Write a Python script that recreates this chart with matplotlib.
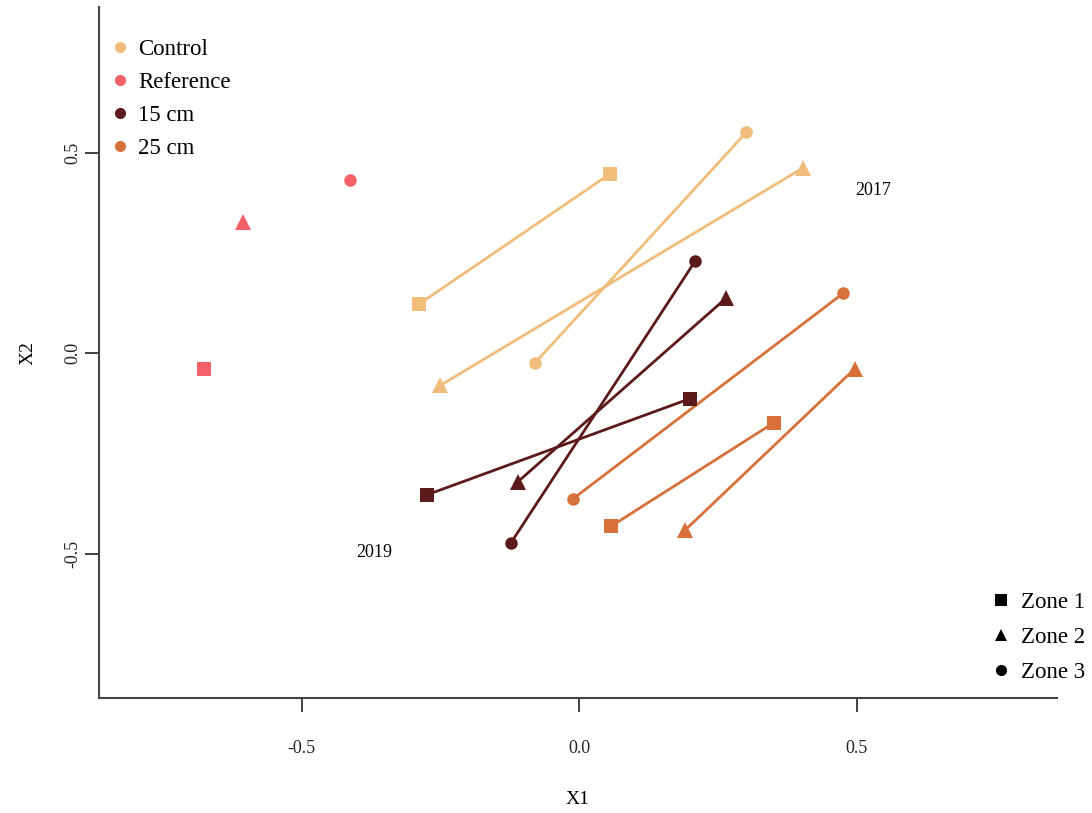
import matplotlib
matplotlib.use("Agg")
import matplotlib.pyplot as plt
from matplotlib.lines import Line2D

plt.rcParams["font.family"] = ["Liberation Serif", "DejaVu Serif"]

# Treatments, zones and their ordination scores (X1, X2) in 2019 and 2017
treatments = ["Control", "Reference", "15 cm", "25 cm"]
colors = ["#F0BD7B", "#F5616A", "#5C1A1A", "#D8703A"]
zones = ["Zone 1", "Zone 2", "Zone 3"]
zone_markers = ["s", "^", "o"]

control_2019_x = [-0.288, -0.250, -0.079]
control_2019_y = [0.123, -0.080, -0.023]
control_2017_x = [0.056, 0.404, 0.301]
control_2017_y = [0.448, 0.463, 0.551]

reference_x = [-0.676, -0.605, -0.413]
reference_y = [-0.038, 0.328, 0.431]

cm15_2019_x = [-0.274, -0.110, -0.123]
cm15_2019_y = [-0.353, -0.320, -0.473]
cm15_2017_x = [0.200, 0.265, 0.209]
cm15_2017_y = [-0.113, 0.138, 0.230]

cm25_2019_x = [0.058, 0.191, -0.011]
cm25_2019_y = [-0.431, -0.441, -0.363]
cm25_2017_x = [0.351, 0.497, 0.476]
cm25_2017_y = [-0.173, -0.038, 0.150]

year_labels = ["2017", "2019"]
year_label_x = [0.530, -0.370]
year_label_y = [0.405, -0.496]

marker_sizes = {"s": 10, "^": 12, "o": 9}

fig = plt.figure(figsize=(10.92, 8.13), dpi=100)
ax = fig.add_axes([0.0907, 0.1414, 0.8773, 0.8496])

paired = [
    (colors[0], control_2019_x, control_2019_y, control_2017_x, control_2017_y),
    (colors[2], cm15_2019_x, cm15_2019_y, cm15_2017_x, cm15_2017_y),
    (colors[3], cm25_2019_x, cm25_2019_y, cm25_2017_x, cm25_2017_y),
]
for col, x0s, y0s, x1s, y1s in paired:
    for i, m in enumerate(zone_markers):
        ax.plot([x0s[i], x1s[i]], [y0s[i], y1s[i]], color=col, lw=2.0,
                solid_capstyle="butt", zorder=2)
        ax.plot([x0s[i], x1s[i]], [y0s[i], y1s[i]], linestyle="none",
                marker=m, markersize=marker_sizes[m], color=col,
                markeredgewidth=0, zorder=3)

for i, m in enumerate(zone_markers):
    ax.plot(reference_x[i], reference_y[i], linestyle="none", marker=m,
            markersize=marker_sizes[m], color=colors[1], markeredgewidth=0,
            zorder=3)

for lab, x, y in zip(year_labels, year_label_x, year_label_y):
    ax.text(x, y, lab, fontsize=13, ha="center", va="center")

ax.set_xlim(-0.865, 0.861)
ax.set_ylim(-0.860, 0.863)
ax.set_xticks([-0.5, 0.0, 0.5])
ax.set_yticks([-0.5, 0.0, 0.5])
ax.set_xticklabels(["-0.5", "0.0", "0.5"])
ax.set_yticklabels(["-0.5", "0.0", "0.5"], rotation=90, va="center")
ax.tick_params(direction="out", length=10, width=1.2, labelsize=13,
               colors="#222222")
ax.tick_params(axis="x", pad=20)
ax.tick_params(axis="y", pad=3)
for side in ("top", "right"):
    ax.spines[side].set_visible(False)
for side in ("left", "bottom"):
    ax.spines[side].set_linewidth(1.5)
    ax.spines[side].set_color("#444444")

ax.set_xlabel("X1", fontsize=14, labelpad=25)
ax.set_ylabel("X2", fontsize=14, labelpad=20)

treat_handles = [Line2D([], [], linestyle="none", marker="o", markersize=8,
                        color=c, markeredgewidth=0) for c in colors]
leg1 = ax.legend(treat_handles, treatments, loc="upper left",
                 bbox_to_anchor=(0.005, 0.9675), frameon=False, fontsize=16.5,
                 handlelength=0.6, handletextpad=0.5, labelspacing=0.52,
                 borderaxespad=0)
ax.add_artist(leg1)

zone_handles = [Line2D([], [], linestyle="none", marker=m, markersize=8,
                       color="black", markeredgewidth=0) for m in zone_markers]
ax.legend(zone_handles, zones, loc="lower left",
          bbox_to_anchor=(0.9246, 0.009), frameon=False, fontsize=16.5,
          handlelength=0.6, handletextpad=0.6, labelspacing=0.6,
          borderaxespad=0)

fig.savefig("out.png", dpi=100)
